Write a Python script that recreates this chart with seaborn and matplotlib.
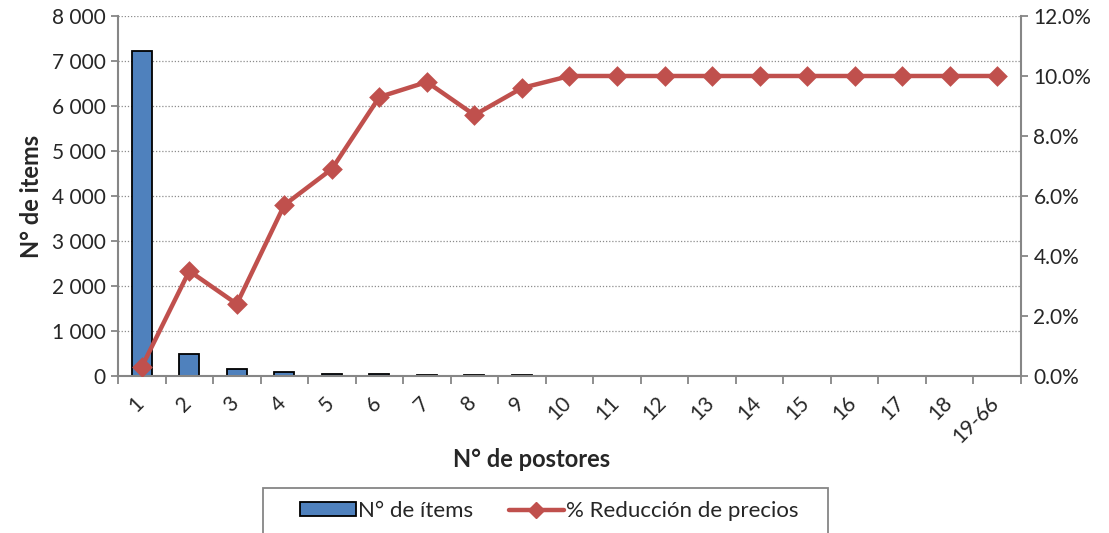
import matplotlib
matplotlib.use("Agg")
import matplotlib.pyplot as plt
import matplotlib.transforms as mtransforms
import seaborn as sns
import pandas as pd
from matplotlib.ticker import FuncFormatter, FixedLocator, NullFormatter
from matplotlib.patches import Patch, Rectangle
from matplotlib.lines import Line2D

categories = ["1", "2", "3", "4", "5", "6", "7", "8", "9", "10", "11", "12",
              "13", "14", "15", "16", "17", "18", "19-66"]
n_items = [7220, 480, 150, 80, 45, 35, 28, 22, 12, 8, 7, 6, 6, 5, 5, 5, 5, 5, 8]
pct_reduction = [0.3, 3.5, 2.4, 5.7, 6.9, 9.3, 9.8, 8.7, 9.6, 10.0, 10.0, 10.0,
                 10.0, 10.0, 10.0, 10.0, 10.0, 10.0, 10.0]

df = pd.DataFrame({"cat": categories, "items": n_items, "pct": pct_reduction})

sns.set_style("white")
plt.rcParams["font.family"] = ["Lato", "DejaVu Sans"]

BAR = "#4F81BD"
LINE = "#C0504D"
GRAY = "#868686"
FS = 15

fig = plt.figure(figsize=(11.09, 5.33), dpi=100)
ax = fig.add_axes([0.1064, 0.2946, 0.8142, 0.6754])

sns.barplot(data=df, x="cat", y="items", order=categories, color=BAR,
            width=0.42, edgecolor="black", linewidth=1.3, saturation=1, ax=ax)
ax.set_ylim(0, 8000)
ax.set_xlim(-0.5, len(categories) - 0.5)
ax.set_yticks(range(0, 8001, 1000))
ax.yaxis.set_major_formatter(FuncFormatter(lambda v, p: f"{int(v):,}".replace(",", " ")))
ax.grid(axis="y", linestyle=(0, (1, 1.5)), color="#8c8c8c", linewidth=0.9)
ax.set_axisbelow(True)

ax2 = ax.twinx()
sns.pointplot(data=df, x="cat", y="pct", order=categories, color=LINE,
              markers="D", linestyles="-", ax=ax2,
              markersize=8, linewidth=3.2)
ax2.set_ylim(0, 12)
ax2.set_xlim(-0.5, len(categories) - 0.5)
ax2.set_yticks(range(0, 13, 2))
ax2.yaxis.set_major_formatter(FuncFormatter(lambda v, p: f"{v:.1f}%"))
ax2.grid(False)

for a in (ax, ax2):
    for s in a.spines.values():
        s.set_color(GRAY)
        s.set_linewidth(1.5)
    a.spines["top"].set_visible(False)
ax.spines["right"].set_visible(False)
ax2.spines["left"].set_visible(False)
ax2.spines["bottom"].set_visible(False)

ax.tick_params(axis="y", which="major", length=5, width=1.3, color=GRAY,
               labelsize=FS, pad=4, left=True)
ax2.tick_params(axis="y", which="major", length=5, width=1.3, color=GRAY,
                labelsize=FS, pad=4, right=True)

# x ticks: labels at centres (no marks), marks at boundaries
ax.tick_params(axis="x", which="major", length=0, labelsize=FS, pad=12)
ax.xaxis.set_minor_locator(FixedLocator([i - 0.5 for i in range(len(categories) + 1)]))
ax.xaxis.set_minor_formatter(NullFormatter())
ax.tick_params(axis="x", which="minor", length=6, width=1.3, color=GRAY, bottom=True)
offset = mtransforms.ScaledTranslation(6 / 100, 0, fig.dpi_scale_trans)
for lbl in ax.get_xticklabels():
    lbl.set_rotation(45)
    lbl.set_ha("right")
    lbl.set_va("top")
    lbl.set_transform(lbl.get_transform() + offset)

ax.set_xlabel("N° de postores", fontsize=17, fontweight="bold")
ax.xaxis.set_label_coords((532 - 118) / 903, -(460 - 376) / 360)
ax.xaxis.label.set_va("center")
ax.set_ylabel("N° de items", fontsize=17, fontweight="bold", labelpad=6)
ax2.set_ylabel("")

# legend frame (drawn in figure pixels) and legend content
W, H = 1109, 533
frame = Rectangle((263 / W, 0 - 0.02), (828 - 263) / W, 1 - 488 / H + 0.02,
                  transform=fig.transFigure, facecolor="white", edgecolor=GRAY,
                  linewidth=1.3, zorder=1)
fig.patches.append(frame)
handles = [Patch(facecolor=BAR, edgecolor="black", linewidth=1.3),
           Line2D([0], [0], color=LINE, linewidth=3.2, marker="D", markersize=8)]
leg = fig.legend(handles, ["N° de ítems", "% Reducción de precios"],
                 loc="center", bbox_to_anchor=(549.5 / W, 1 - 511 / H),
                 ncol=2, frameon=False, fontsize=16, handlelength=2.5,
                 handleheight=0.55, columnspacing=1.6, handletextpad=0.1,
                 borderpad=0.2)

fig.savefig("out.png", dpi=100)
